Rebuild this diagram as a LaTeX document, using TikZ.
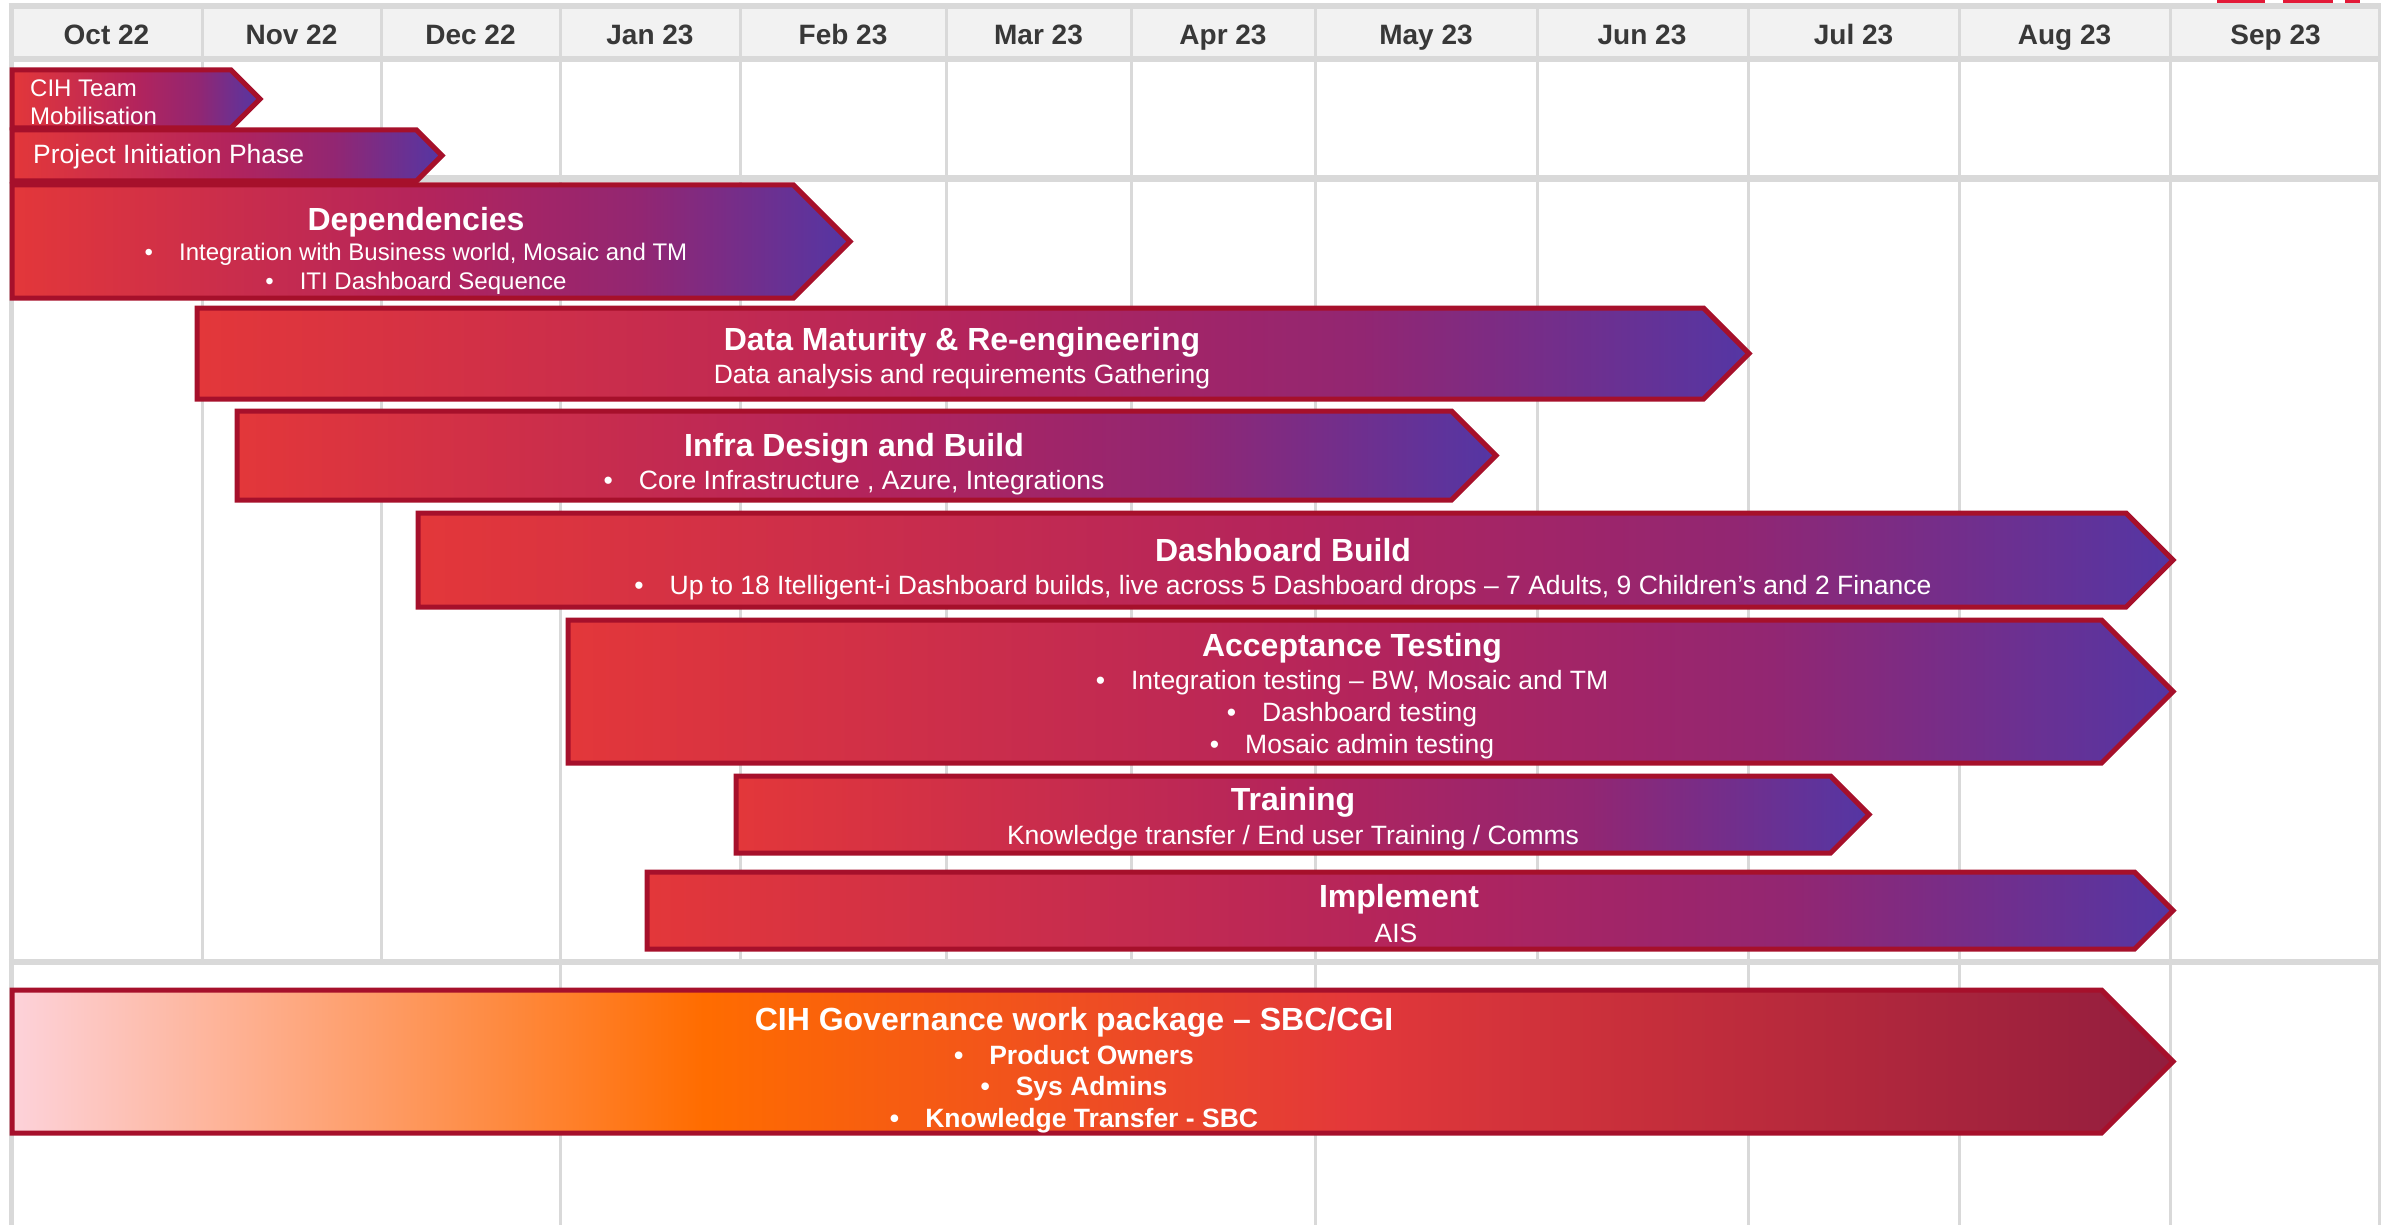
\documentclass[tikz,border=0pt]{standalone}
\usepackage{fontspec}
\setmainfont{Liberation Sans}
\usetikzlibrary{calc}

\definecolor{gridgray}{HTML}{D9D9D9}
\definecolor{headfill}{HTML}{F2F2F2}
\definecolor{monthtext}{HTML}{383838}
\definecolor{barborder}{HTML}{A6102B}
\definecolor{cgired}{HTML}{E31937}

% bar fills: 25bp = left end of the bar, 75bp = tip
\pgfdeclarehorizontalshading{redpurple}{100bp}{%
  rgb(0bp)=(0.890,0.216,0.227); rgb(25bp)=(0.890,0.216,0.227);
  rgb(50bp)=(0.702,0.141,0.361); rgb(62.5bp)=(0.573,0.149,0.447);
  rgb(75bp)=(0.329,0.212,0.643); rgb(100bp)=(0.329,0.212,0.643)}
\pgfdeclarehorizontalshading{govshade}{100bp}{%
  rgb(0bp)=(0.992,0.824,0.855); rgb(25bp)=(0.992,0.824,0.855);
  rgb(41bp)=(1,0.424,0); rgb(56bp)=(0.890,0.220,0.227);
  rgb(75bp)=(0.573,0.114,0.243); rgb(100bp)=(0.573,0.114,0.243)}

\tikzset{
  barshape/.style={draw=barborder, line width=5pt, line join=miter},
  gridline/.style={draw=gridgray, line width=3pt},
  thickrule/.style={draw=gridgray, line width=6pt},
  month/.style={font=\bfseries\fontsize{28}{32}\selectfont, text=monthtext, inner sep=0pt,
    text height=20pt, text depth=0pt},
  bartitle/.style={font=\bfseries\fontsize{32}{36}\selectfont, text=white, inner sep=0pt},
  baritem/.style={font=\fontsize{26.5}{30}\selectfont, text=white, inner sep=0pt},
  baritemsmall/.style={font=\fontsize{24}{28}\selectfont, text=white, inner sep=0pt},
  baritemb/.style={font=\bfseries\fontsize{26.5}{30}\selectfont, text=white, inner sep=0pt},
  smalllabel/.style={font=\fontsize{24}{28}\selectfont, text=white, inner sep=0pt, anchor=west},
}

\newcommand\bul{\textbullet\hspace{26pt}}

% chevron bar: #1 shading, #2 left x, #3 tip x, #4 top y, #5 bottom y
\newcommand\chevron[5]{%
  \pgfmathsetmacro\halfh{(#5-#4)/2}%
  \path[barshape, shading=#1] (#2,#4) -- ({#3-\halfh},#4) -- (#3,{#4+\halfh})
    -- ({#3-\halfh},#5) -- (#2,#5) -- cycle;
}

\begin{document}
\begin{tikzpicture}[x=1pt, y=-1pt]
\useasboundingbox (0,0) rectangle (2381,1225);
\fill[white] (0,0) rectangle (2381,1225);

% logo fragment at the top edge
\fill[cgired] (2217,0) rectangle (2265,3);
\fill[cgired] (2283,0) rectangle (2333,3);
\fill[cgired] (2345,0) rectangle (2360,3);

% header band
\fill[headfill] (11,6) rectangle (2381,59);

% column rules
\foreach \gx in {202,381,740,946,1131,1537}
  \draw[gridline] (\gx,6) -- (\gx,962);
\foreach \gx in {560,1315,1748,1959,2170}
  \draw[gridline] (\gx,6) -- (\gx,1225);
\draw[gridline] (2379.5,6) -- (2379.5,1225);
\draw[draw=gridgray, line width=5pt] (11,6) -- (11,1225);

% row rules
\draw[thickrule] (8.5,6) -- (2381,6);
\draw[thickrule] (8.5,59) -- (2381,59);
\draw[draw=gridgray, line width=7pt] (8.5,178.5) -- (2381,178.5);
\draw[thickrule] (8.5,962) -- (2381,962);

% month headings
\foreach \cx/\lab/\nm in {106.5/Oct 22/m1, 291.5/Nov 22/m2, 470.5/Dec 22/m3,
    650/Jan 23/m4, 843/Feb 23/m5, 1038.5/Mar 23/m6, 1223/Apr 23/m7,
    1426/May 23/m8, 1642/Jun 23/m9, 1853.5/Jul 23/m10, 2064.5/Aug 23/m11,
    2275.5/Sep 23/m12}
  \node[month] (\nm) at (\cx,34.5) {\lab};

% bars
\chevron{redpurple}{12}{260}{70}{128}
\chevron{redpurple}{12}{442}{130}{181}
\chevron{redpurple}{12}{850}{185}{298}
\chevron{redpurple}{197}{1749}{308}{399}
\chevron{redpurple}{237}{1496}{411}{500}
\chevron{redpurple}{418}{2173}{513}{607}
\chevron{redpurple}{568}{2173}{620}{763}
\chevron{redpurple}{736}{1869}{776}{853}
\chevron{redpurple}{647}{2173}{872}{949}
\chevron{govshade}{12}{2173}{990}{1133}

% bar labels
\node[smalllabel] (mob1) at (30,88) {CIH Team};
\node[smalllabel] (mob2) at (30,116) {Mobilisation};
\node[smalllabel, font=\fontsize{26.5}{30}\selectfont] (init) at (33,157) {Project Initiation Phase};

\node[bartitle] (dep) at (416,222) {Dependencies};
\node[baritemsmall] (dep1) at (416,254) {\bul Integration with Business world, Mosaic and TM};
\node[baritemsmall] (dep2) at (416,283) {\bul ITI Dashboard Sequence};

\node[bartitle] (dmr) at (962,342) {Data Maturity \& Re-engineering};
\node[baritem] (dmr1) at (962,377) {Data analysis and requirements Gathering};

\node[bartitle] (infra) at (854,448) {Infra Design and Build};
\node[baritem] (infra1) at (854,483) {\bul Core Infrastructure , Azure, Integrations};

\node[bartitle] (dash) at (1283,550) {Dashboard Build};
\node[baritem] (dash1) at (1283,588) {\bul Up to 18 Itelligent-i Dashboard builds, live across 5 Dashboard drops – 7 Adults, 9 Children’s and 2 Finance};

\node[bartitle] (acc) at (1352,648) {Acceptance Testing};
\node[baritem] (acc1) at (1352,683) {\bul Integration testing – BW, Mosaic and TM};
\node[baritem] (acc2) at (1352,715) {\bul Dashboard testing};
\node[baritem] (acc3) at (1352,747) {\bul Mosaic admin testing};

\node[bartitle] (train) at (1293,802) {Training};
\node[baritem] (train1) at (1293,838) {Knowledge transfer / End user Training / Comms};

\node[bartitle] (impl) at (1399,899) {Implement};
\node[baritem] (impl1) at (1396,933) {AIS};

\node[bartitle] (gov) at (1074,1022) {CIH Governance work package – SBC/CGI};
\node[baritemb] (gov1) at (1074,1055) {\bul Product Owners};
\node[baritemb] (gov2) at (1074,1089) {\bul Sys Admins};
\node[baritemb] (gov3) at (1074,1121) {\bul Knowledge Transfer - SBC};
\end{tikzpicture}
\end{document}
